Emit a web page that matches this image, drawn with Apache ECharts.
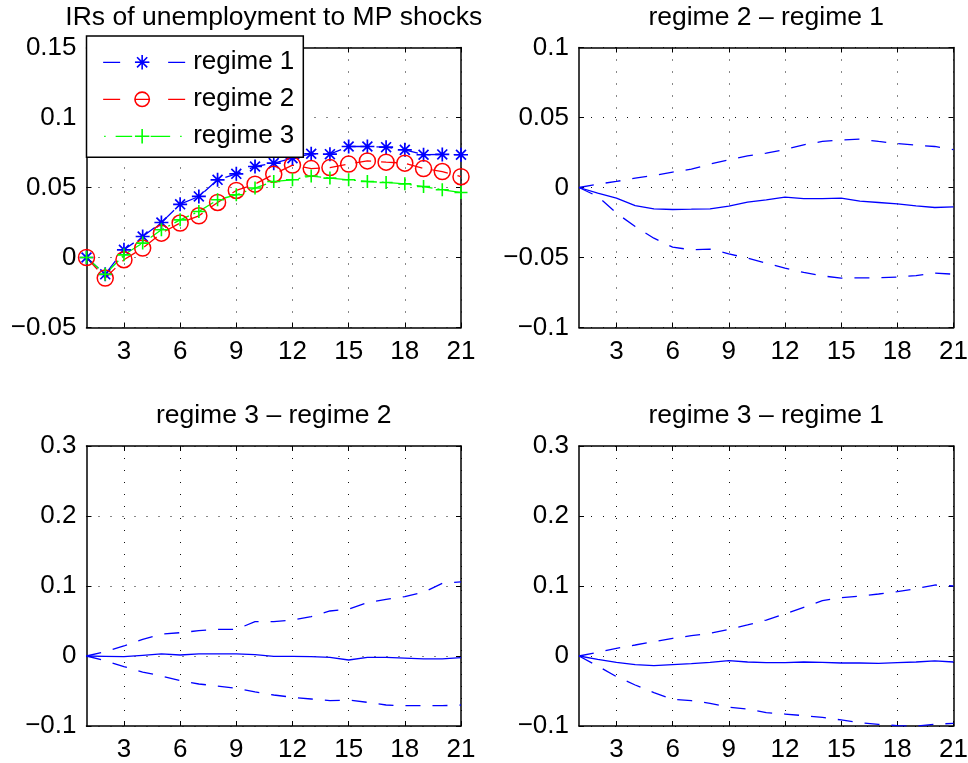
<!DOCTYPE html>
<html>
<head>
<meta charset="utf-8">
<script src="https://cdn.jsdelivr.net/npm/echarts@6/dist/echarts.min.js"></script>
<style>
  html, body { margin: 0; padding: 0; background: #ffffff; }
  #chart { width: 968px; height: 763px; }
</style>
</head>
<body>
<div id="chart"></div>
<script>
// Forecast horizon (periods after the shock)
const horizon = [1, 2, 3, 4, 5, 6, 7, 8, 9, 10, 11, 12, 13, 14, 15, 16, 17, 18, 19, 20, 21];

// Y-axis tick values of each panel
const ticksLevels = [-0.05, 0, 0.05, 0.1, 0.15];
const ticksDiff21 = [-0.1, -0.05, 0, 0.05, 0.1];
const ticksDiff3x = [-0.1, 0, 0.1, 0.2, 0.3];

// Impulse responses of unemployment to a monetary policy shock, by regime
const irRegime1 = [0, -0.012, 0.0055, 0.015, 0.025, 0.038, 0.0436, 0.0555, 0.0598, 0.065, 0.0674,
                   0.071, 0.0741, 0.0738, 0.0793, 0.0793, 0.0788, 0.0769, 0.0734, 0.0736, 0.0734];
const irRegime2 = [0, -0.0147, -0.0016, 0.0067, 0.0174, 0.0246, 0.0298, 0.0393, 0.0479, 0.0524, 0.0595,
                   0.066, 0.0635, 0.0642, 0.0667, 0.069, 0.0681, 0.0674, 0.0635, 0.0614, 0.0577];
const irRegime3 = [0, -0.012, 0.0019, 0.0103, 0.0198, 0.0269, 0.0329, 0.0412, 0.0448, 0.0496, 0.0543,
                   0.0555, 0.0582, 0.0567, 0.0555, 0.0543, 0.0536, 0.0526, 0.0507, 0.0484, 0.0464];

// regime 2 - regime 1: median difference and error band
const d21Median = [0, -0.004, -0.0076, -0.0129, -0.0152, -0.0157, -0.0155, -0.0152, -0.0133, -0.0105, -0.0088,
                   -0.0069, -0.0079, -0.0079, -0.0076, -0.0098, -0.0107, -0.0117, -0.0131, -0.0143, -0.0138];
const d21Upper  = [0, 0.0024, 0.0043, 0.0067, 0.0086, 0.011, 0.0131, 0.0167, 0.0198, 0.0226, 0.0245,
                   0.0271, 0.0305, 0.0329, 0.034, 0.0345, 0.0329, 0.0314, 0.0302, 0.0293, 0.027];
const d21Lower  = [0, -0.0064, -0.0183, -0.0279, -0.0362, -0.0426, -0.0445, -0.044, -0.0474, -0.0505, -0.054,
                   -0.0576, -0.0607, -0.0631, -0.0648, -0.0645, -0.0645, -0.064, -0.0629, -0.0612, -0.0619];

// regime 3 - regime 2
const d32Median = [0, -0.0005, -0.001, 0.001, 0.003, 0.0014, 0.003, 0.003, 0.003, 0.002, -0.0005,
                   -0.0005, -0.001, -0.002, -0.0057, -0.002, -0.002, -0.003, -0.004, -0.004, -0.0024];
const d32Upper  = [0, 0.0062, 0.0143, 0.0238, 0.0314, 0.0333, 0.0362, 0.0381, 0.0381, 0.049, 0.049,
                   0.0514, 0.0562, 0.0643, 0.0671, 0.0762, 0.081, 0.0848, 0.091, 0.1038, 0.106];
const d32Lower  = [0, -0.0067, -0.0152, -0.0229, -0.0286, -0.0352, -0.04, -0.0429, -0.0462, -0.0514, -0.0557,
                   -0.059, -0.0614, -0.0638, -0.0629, -0.0662, -0.07, -0.071, -0.071, -0.071, -0.07];

// regime 3 - regime 1
const d31Median = [0, -0.0048, -0.009, -0.0124, -0.0138, -0.0124, -0.011, -0.009, -0.0067, -0.0086, -0.0095,
                   -0.0095, -0.0086, -0.009, -0.01, -0.01, -0.0105, -0.0095, -0.0086, -0.0071, -0.0086];
const d31Upper  = [0, 0.0052, 0.011, 0.0157, 0.0205, 0.0252, 0.029, 0.0324, 0.0381, 0.0443, 0.0514,
                   0.06, 0.0695, 0.079, 0.0833, 0.0857, 0.0886, 0.0919, 0.0962, 0.1014, 0.1];
const d31Lower  = [0, -0.0143, -0.0295, -0.0414, -0.0524, -0.0619, -0.0638, -0.0676, -0.0733, -0.0757, -0.081,
                   -0.0829, -0.0852, -0.0876, -0.0914, -0.0952, -0.0976, -0.0995, -0.1, -0.0976, -0.0962];

const FONT = "'Liberation Sans', Arial, Helvetica, sans-serif";
const BLUE = '#0000ff', RED = '#ff0000', GREEN = '#00ff00';
const STAR = 'path://M0,-1L0,1M-1,0L1,0M-0.7071,-0.7071L0.7071,0.7071M-0.7071,0.7071L0.7071,-0.7071';
const PLUS = 'path://M0,-1L0,1M-1,0L1,0';

const PLOT_W = 374.5, PLOT_H = 280;
const panels = [
  { left: 86.5, top: 47.5, title: 'IRs of unemployment to MP shocks', ticks: ticksLevels },
  { left: 579,  top: 47.5, title: 'regime 2 \u2013 regime 1', ticks: ticksDiff21 },
  { left: 86.5, top: 446,  title: 'regime 3 \u2013 regime 2', ticks: ticksDiff3x },
  { left: 579,  top: 446,  title: 'regime 3 \u2013 regime 1', ticks: ticksDiff3x }
];

const everyThird = (idx, val) => Number(val) % 3 === 0;
const fmtTick = v => String(+Number(v).toFixed(4)).replace('-', '\u2212');
const axisColor = '#000000';

const grid = [], xAxis = [], yAxis = [], title = [];
panels.forEach((p, g) => {
  grid.push({ left: p.left, top: p.top, width: PLOT_W, height: PLOT_H,
              containLabel: false, outerBoundsMode: 'none' });
  title.push({
    text: p.title, left: p.left + PLOT_W / 2, top: p.top - 30,
    textAlign: 'center', textVerticalAlign: 'middle', padding: 0,
    textStyle: { fontSize: 26.5, lineHeight: 26, fontWeight: 'normal', color: '#000', fontFamily: FONT }
  });
  const lineCommon = { show: true, onZero: false, lineStyle: { color: axisColor, width: 1.5 } };
  const tickCommon = { show: true, inside: true, length: 5, lineStyle: { color: axisColor, width: 1 } };
  const dotted = { color: '#111', width: 1, type: [1, 11] };
  // bottom x axis with labels and vertical grid
  xAxis.push({
    type: 'category', gridIndex: g, position: 'bottom', data: horizon.map(String), boundaryGap: false,
    axisLine: lineCommon,
    axisTick: Object.assign({ interval: everyThird }, tickCommon),
    axisLabel: { show: true, interval: everyThird, margin: 11, fontSize: 26, lineHeight: 26,
                 color: '#000', fontFamily: FONT },
    splitLine: { show: true, interval: everyThird, lineStyle: dotted }
  });
  // top x axis closing the box
  xAxis.push({
    type: 'category', gridIndex: g, position: 'top', data: horizon.map(String), boundaryGap: false,
    axisLine: lineCommon,
    axisTick: Object.assign({ interval: everyThird }, tickCommon),
    axisLabel: { show: false }, splitLine: { show: false }
  });
  const min = p.ticks[0], max = p.ticks[p.ticks.length - 1];
  const interval = +(p.ticks[1] - p.ticks[0]).toFixed(6);
  yAxis.push({
    type: 'value', gridIndex: g, position: 'left', min, max, interval,
    axisLine: lineCommon, axisTick: tickCommon,
    axisLabel: { show: true, margin: 10, fontSize: 26, lineHeight: 26, color: '#000',
                 fontFamily: FONT, formatter: fmtTick },
    splitLine: { show: true, lineStyle: dotted }
  });
  yAxis.push({
    type: 'value', gridIndex: g, position: 'right', min, max, interval,
    axisLine: lineCommon, axisTick: tickCommon,
    axisLabel: { show: false }, splitLine: { show: false }
  });
});

function markerSeries(name, data, color, symbol, size, dash, stroke) {
  return {
    name, type: 'line', xAxisIndex: 0, yAxisIndex: 0, data,
    symbol, symbolSize: size, showSymbol: true, showAllSymbol: true,
    lineStyle: { color, width: 1.3, type: dash },
    itemStyle: { color: 'none', borderColor: color, borderWidth: stroke },
    emphasis: { disabled: true }, silent: true
  };
}
function bandSeries(name, g, data, dashed) {
  return {
    name, type: 'line', xAxisIndex: 2 * g, yAxisIndex: 2 * g, data,
    symbol: 'none', showSymbol: false,
    lineStyle: { color: BLUE, width: 1.3, type: dashed ? [15, 12] : 'solid' },
    emphasis: { disabled: true }, silent: true
  };
}

const series = [
  markerSeries('regime 1', irRegime1, BLUE, STAR, 14, [16, 10], 1.7),
  markerSeries('regime 2', irRegime2, RED, 'circle', 16, [16, 10], 1.5),
  markerSeries('regime 3', irRegime3, GREEN, PLUS, 13, [16, 5, 2, 5], 1.6),
  bandSeries('r2-r1 upper', 1, d21Upper, true),
  bandSeries('r2-r1 median', 1, d21Median, false),
  bandSeries('r2-r1 lower', 1, d21Lower, true),
  bandSeries('r3-r2 upper', 2, d32Upper, true),
  bandSeries('r3-r2 median', 2, d32Median, false),
  bandSeries('r3-r2 lower', 2, d32Lower, true),
  bandSeries('r3-r1 upper', 3, d31Upper, true),
  bandSeries('r3-r1 median', 3, d31Median, false),
  bandSeries('r3-r1 lower', 3, d31Lower, true)
];

const legendDash = [0, 7, 17, 15, 14, 19, 17, 10];
const chart = echarts.init(document.getElementById('chart'), null, { renderer: 'canvas' });
chart.setOption({
  animation: false,
  backgroundColor: '#ffffff',
  textStyle: { fontFamily: FONT },
  title, grid, xAxis, yAxis, series,
  legend: {
    orient: 'vertical', left: 86.5, top: 36,
    padding: [13.3, 9, 8, 9], itemGap: 11, itemWidth: 92, itemHeight: 18,
    backgroundColor: '#ffffff', borderColor: '#000000', borderWidth: 1.5, borderRadius: 0,
    selectedMode: false,
    textStyle: { fontSize: 26, lineHeight: 26, color: '#000', fontFamily: FONT },
    itemStyle: { borderWidth: 1.6 },
    lineStyle: { width: 1.3 },
    data: [
      { name: 'regime 1', lineStyle: { type: legendDash } },
      { name: 'regime 2', lineStyle: { type: legendDash } },
      { name: 'regime 3', lineStyle: { type: [0, 8, 1.5, 10, 16.5, 18.5, 19.5, 10, 1.5, 20] } }
    ]
  }
});
</script>
</body>
</html>
